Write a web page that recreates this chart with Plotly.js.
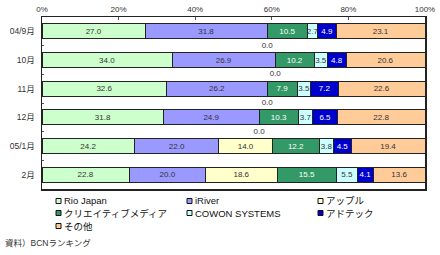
<!DOCTYPE html>
<html><head><meta charset="utf-8">
<script src="https://cdn.plot.ly/plotly-3.0.1.min.js"></script>
<style>html,body{margin:0;padding:0;background:#fff}#c{width:440px;height:255px}</style>
</head><body><div id="c"></div>
<script>
const months = ["04/9月","10月","11月","12月","05/1月","2月"];
const seriesNames = ["Rio Japan","iRiver","アップル","クリエイティブメディア","COWON SYSTEMS","アドテック","その他"];
const rio      = [27.0, 34.0, 32.6, 31.8, 24.2, 22.8];
const iriver   = [31.8, 26.9, 26.2, 24.9, 22.0, 20.0];
const apple    = [null, null, null, null, 14.0, 18.6];
const creative = [10.5, 10.2, 7.9, 10.3, 12.2, 15.5];
const cowon    = [2.7, 3.5, 3.5, 3.7, 3.8, 5.5];
const adtek    = [4.9, 4.8, 7.2, 6.5, 4.5, 4.1];
const other    = [23.1, 20.6, 22.6, 22.8, 19.4, 13.6];
const gapValues = [0.0, 0.0, 0.0, 0.0, null];
const tickPct = [0, 20, 40, 60, 80, 100];

const colors = ["#CCFFCC","#9999FF","#FFFFCC","#339966","#CCFFFF","#0000CC","#FFCC99"];
const textColors = ["#333","#333","#333","#fff","#333","#fff","#333"];
const allSeries = [rio, iriver, apple, creative, cowon, adtek, other];
const FONT = "Liberation Sans, Arial, Noto Sans CJK JP, sans-serif";
const yPos = months.map((m,i)=>i*2);

const traces = allSeries.map((vals,k)=>({
  type:'bar', orientation:'h', name:seriesNames[k],
  x: vals, y: yPos, width:1.05,
  marker:{color:colors[k], line:{color:'#222', width:1}},
  text: vals.map(v=> v==null? '' : v.toFixed(1)),
  textposition:'inside', insidetextanchor:'middle', textangle:0,
  constraintext:'none',
  textfont:{family:FONT, size:8, color:textColors[k]},
  hoverinfo:'skip', showlegend:false
}));

// gap-row labels
const gx=[], gy=[], gt=[];
gapValues.forEach((v,i)=>{
  if(v==null) return;
  gx.push(rio[i]+iriver[i]); gy.push(i*2+1); gt.push(v.toFixed(1));
});
traces.push({type:'scatter', mode:'text', x:gx, y:gy, text:gt,
  textfont:{family:FONT,size:8,color:'#333'}, hoverinfo:'skip', showlegend:false});

// custom legend
const L=42, R=425, T=17, B=189;
const fx = px => (px-L)/(R-L);
const fy = py => (B-py)/(B-T);
const colX=[56,187,318], rowY=[201,213,226];
const shapes=[], annotations=[];
seriesNames.forEach((n,k)=>{
  const cx=colX[k%3], cy=rowY[Math.floor(k/3)];
  shapes.push({type:'rect', xref:'paper', yref:'paper',
    x0:fx(cx), x1:fx(cx+5), y0:fy(cy+2.5), y1:fy(cy-2.5),
    fillcolor:colors[k], line:{color:'#111', width:1}});
  annotations.push({xref:'paper', yref:'paper', x:fx(cx+6), y:fy(cy),
    xanchor:'left', yanchor:'middle', showarrow:false, text:n,
    font:{family:FONT, size:9.5, color:'#111'}});
});
annotations.push({xref:'paper', yref:'paper', x:fx(3), y:fy(243),
  xanchor:'left', yanchor:'middle', showarrow:false, text:'資料）BCNランキング',
  font:{family:FONT, size:8.5, color:'#333'}});

const layout = {
  width:440, height:255, barmode:'stack',
  margin:{l:L, r:440-R, t:T, b:255-B},
  paper_bgcolor:'#fff', plot_bgcolor:'#fff',
  font:{family:FONT, size:8, color:'#333'},
  xaxis:{side:'top', range:[0,100], tickvals:tickPct, ticktext:tickPct.map(v=>v+'%'),
    showgrid:false, zeroline:false, showline:true, mirror:true, linecolor:'#222', linewidth:1.5,
    ticks:'inside', ticklen:3, tickcolor:'#555', tickfont:{size:8, color:'#333'}, fixedrange:true},
  yaxis:{range:[11,-1], tickvals:yPos, ticktext:months, showgrid:false, zeroline:false,
    showline:true, mirror:true, linecolor:'#222', linewidth:1.5, ticks:'', ticklabelstandoff:4,
    tickfont:{size:8.5, color:'#333'}, fixedrange:true,
    minor:{tickvals:[1,3,5,7,9], ticks:'inside', ticklen:2, tickcolor:'#555'}},
  shapes, annotations, showlegend:false, bargap:0
};
Plotly.newPlot('c', traces, layout, {displayModeBar:false, staticPlot:true});
</script></body></html>
